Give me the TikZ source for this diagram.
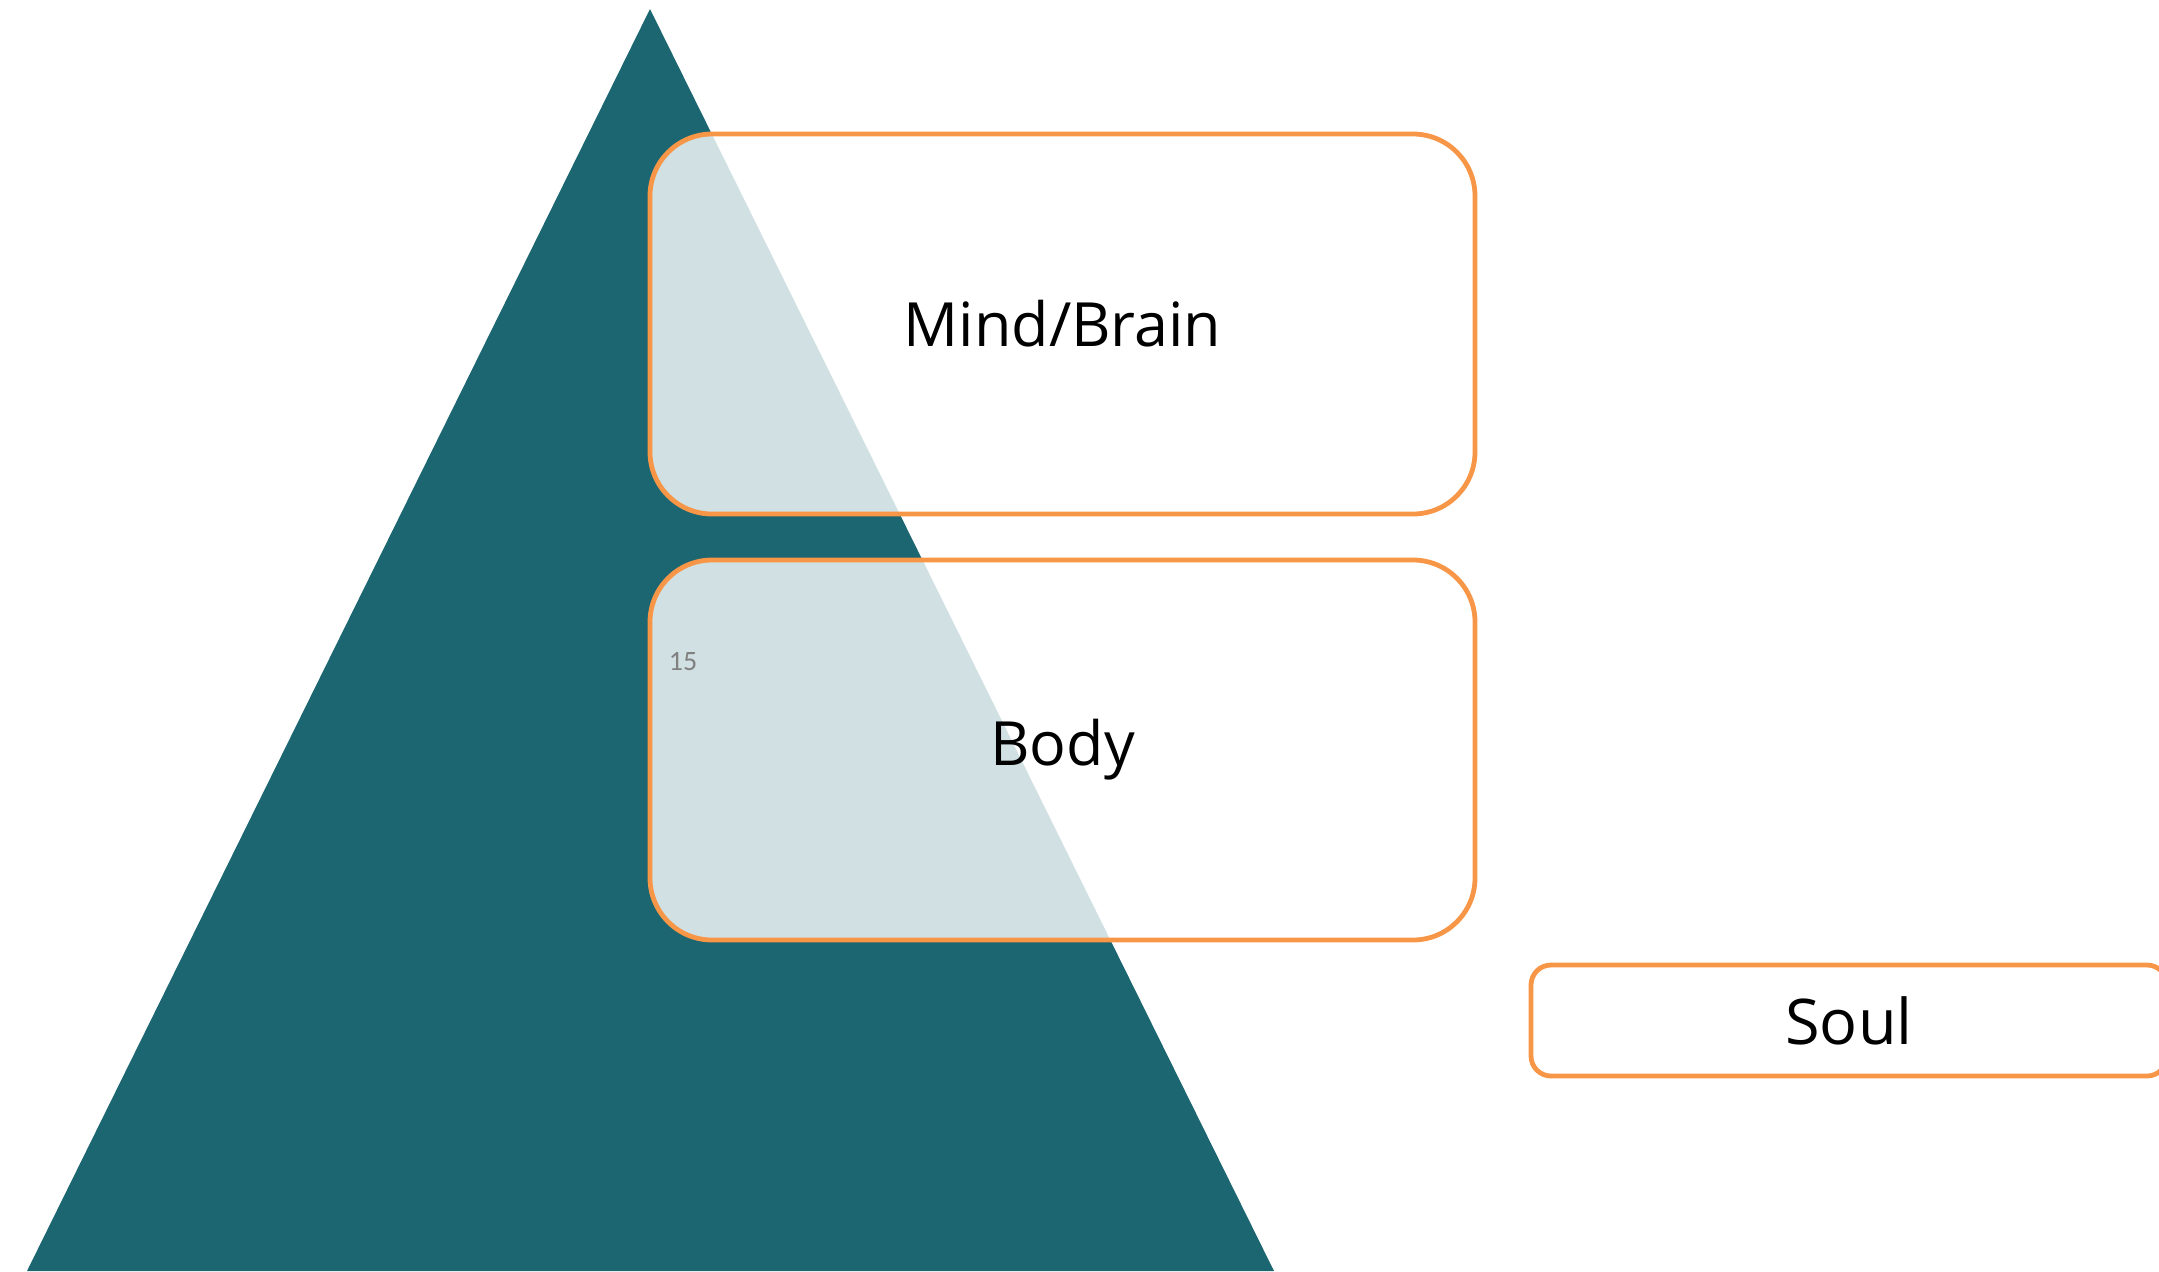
\documentclass[tikz,border=0pt]{standalone}
\usepackage{fontspec}
\setmainfont{Open Sans}
\newfontfamily\numfont{Carlito}
\definecolor{teal}{HTML}{1B6670}
\definecolor{accent}{HTML}{F79646}
\definecolor{pagenum}{HTML}{808080}
\begin{document}
\begin{tikzpicture}[x=0.5pt,y=-0.5pt,
  layerbox/.style={draw=accent, line width=2.4pt, fill=white, fill opacity=0.8,
    draw opacity=1, text opacity=1, rounded corners=31pt, minimum width=412.5pt,
    minimum height=190pt, inner sep=0pt, font=\fontsize{30.5}{36}\selectfont},
  sidebox/.style={draw=accent, line width=2.4pt, fill=white,
    rounded corners=10pt, minimum width=318pt, minimum height=55.5pt,
    inner sep=0pt, font=\fontsize{31.5}{36}\selectfont}]
  \useasboundingbox (0,0) rectangle (2159,1271);
  % pyramid
  \fill[teal] (650,9) -- (1274,1271) -- (27,1271) -- cycle;
  % layers
  \node[layerbox] (mind) at (1062.5,324) {Mind/Brain};
  \node[layerbox] (body) at (1062.5,750) {Body};
  \node[sidebox] (soul) at (1849,1020.5) {Soul};
  % slide number
  \node[text=pagenum, font=\numfont\fontsize{14}{16}\selectfont, inner sep=0pt]
    (num) at (683,662) {15};
\end{tikzpicture}
\end{document}
